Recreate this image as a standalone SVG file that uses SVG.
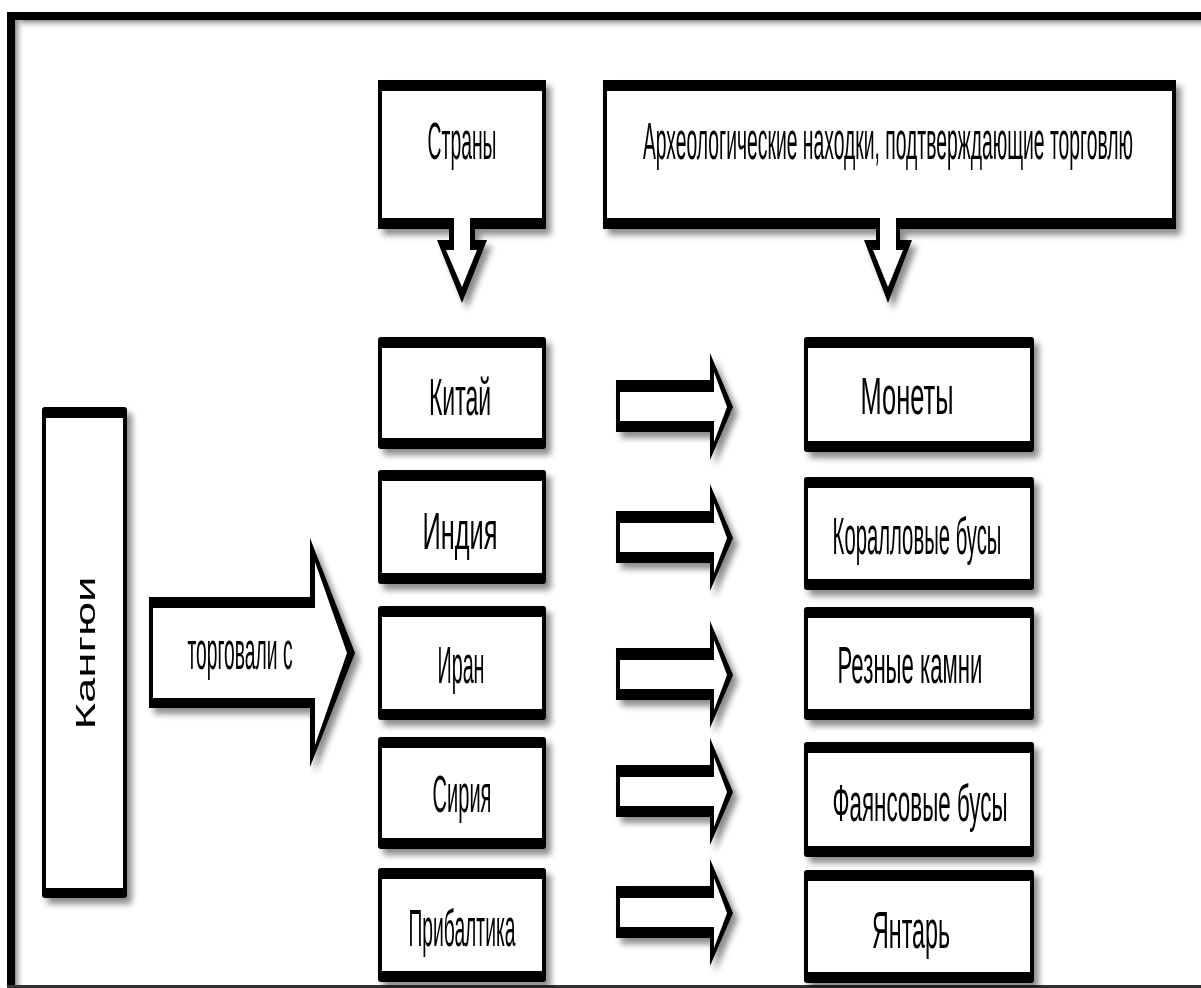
<svg xmlns="http://www.w3.org/2000/svg" width="1201" height="988" viewBox="0 0 1201 988">
<defs>
<filter id="sh" x="-20%" y="-20%" width="150%" height="150%">
<feDropShadow dx="5" dy="6" stdDeviation="3" flood-color="#000" flood-opacity="0.45"/>
</filter>
<linearGradient id="gTop" x1="0" y1="0" x2="0" y2="1"><stop offset="0" stop-color="#8a8a8a"/><stop offset="1" stop-color="#fff" stop-opacity="0"/></linearGradient>
<linearGradient id="gLeft" x1="0" y1="0" x2="1" y2="0"><stop offset="0" stop-color="#8a8a8a"/><stop offset="1" stop-color="#fff" stop-opacity="0"/></linearGradient>
<g id="arrowSmall">
<path class="blk" d="M616,380 H710 V353 L733,407 L710,460 V432 H616 Z"/>
<path class="wht" d="M620,392 H714 V372 L727,407 L714,442 V421 H620 Z"/>
</g>
</defs>
<style>
.blk{fill:#000}
.wht{fill:#fff}
.t{font-family:"Liberation Sans",Arial,sans-serif;font-size:52px;fill:#000;text-anchor:middle}
.kt{font-family:"Liberation Sans",Arial,sans-serif;font-size:27px;fill:#000;text-anchor:middle}
.box{filter:url(#sh)}
</style>
<rect x="0" y="0" width="1201" height="988" fill="#fff"/>
<g id="frame">
<rect x="15" y="20" width="1186" height="10" fill="url(#gTop)"/>
<rect x="15" y="20" width="10" height="966" fill="url(#gLeft)"/>
<rect x="7" y="12" width="1194" height="8" fill="#000"/>
<rect x="7" y="12" width="8" height="976" fill="#000"/>
<rect x="7" y="985" width="1194" height="3" fill="#333"/>
</g>
<g id="strany" class="box">
<path class="blk" d="M378,80 H546 V229 H475 V240 H487 L462,303 L437,240 H449 V229 H378 Z"/>
<path class="wht" d="M382,91 H542 V218 H470 V250 H477 L462,287 L446,250 H454 V218 H382 Z"/>
<text class="t" transform="translate(462,159) scale(0.42,1)" textLength="164" lengthAdjust="spacingAndGlyphs">Страны</text>
</g>
<g id="finds" class="box">
<path class="blk" d="M603,80 H1176 V229 H900 V240 H912 L888,303 L864,240 H876 V229 H603 Z"/>
<path class="wht" d="M607,91 H1172 V218 H896 V250 H903 L888,287 L873,250 H880 V218 H607 Z"/>
<text class="t" transform="translate(888,159) scale(0.42,1)" textLength="1167" lengthAdjust="spacingAndGlyphs">Археологические находки, подтверждающие торговлю</text>
</g>
<g id="kangyui" class="box">
<rect class="blk" x="42" y="407" width="85" height="491" rx="3"/>
<rect class="wht" x="46" y="418" width="77" height="470"/>
<text class="kt" x="0" y="0" textLength="153" lengthAdjust="spacingAndGlyphs" transform="translate(95,653) rotate(-90)">Кангюи</text>
</g>
<g id="traded" class="box">
<path class="blk" d="M149,597 H310 V538 L355,653 L310,767 V708 H149 Z"/>
<path class="wht" d="M153,608 H315 V562 L347,653 L315,745 V698 H153 Z"/>
<text class="t" transform="translate(240,669) scale(0.42,1)" textLength="250" lengthAdjust="spacingAndGlyphs">торговали с</text>
</g>
<g id="china" class="box">
<rect class="blk" x="378" y="337" width="168" height="112" rx="3"/>
<rect class="wht" x="382" y="348" width="160" height="90"/>
<text class="t" transform="translate(460,415) scale(0.42,1)" textLength="148" lengthAdjust="spacingAndGlyphs">Китай</text>
</g>
<g id="india" class="box">
<rect class="blk" x="378" y="470" width="168" height="114" rx="3"/>
<rect class="wht" x="382" y="481" width="160" height="92"/>
<text class="t" transform="translate(460,549) scale(0.42,1)" textLength="179" lengthAdjust="spacingAndGlyphs">Индия</text>
</g>
<g id="iran" class="box">
<rect class="blk" x="378" y="606" width="168" height="114" rx="3"/>
<rect class="wht" x="382" y="617" width="160" height="92"/>
<text class="t" transform="translate(461,683) scale(0.42,1)" textLength="112" lengthAdjust="spacingAndGlyphs">Иран</text>
</g>
<g id="syria" class="box">
<rect class="blk" x="378" y="737" width="168" height="112" rx="3"/>
<rect class="wht" x="382" y="748" width="160" height="90"/>
<text class="t" transform="translate(462,812) scale(0.42,1)" textLength="140" lengthAdjust="spacingAndGlyphs">Сирия</text>
</g>
<g id="baltic" class="box">
<rect class="blk" x="378" y="868" width="168" height="114" rx="3"/>
<rect class="wht" x="382" y="879" width="160" height="92"/>
<text class="t" transform="translate(462,946) scale(0.42,1)" textLength="255" lengthAdjust="spacingAndGlyphs">Прибалтика</text>
</g>
<g id="coins" class="box">
<rect class="blk" x="804" y="337" width="230" height="115" rx="3"/>
<rect class="wht" x="808" y="348" width="222" height="93"/>
<text class="t" transform="translate(907,414) scale(0.42,1)" textLength="221" lengthAdjust="spacingAndGlyphs">Монеты</text>
</g>
<g id="coral" class="box">
<rect class="blk" x="804" y="477" width="230" height="113" rx="3"/>
<rect class="wht" x="808" y="488" width="222" height="91"/>
<text class="t" transform="translate(917,554) scale(0.42,1)" textLength="402" lengthAdjust="spacingAndGlyphs">Коралловые бусы</text>
</g>
<g id="stones" class="box">
<rect class="blk" x="804" y="607" width="230" height="113" rx="3"/>
<rect class="wht" x="808" y="618" width="222" height="91"/>
<text class="t" transform="translate(910,683) scale(0.42,1)" textLength="345" lengthAdjust="spacingAndGlyphs">Резные камни</text>
</g>
<g id="faience" class="box">
<rect class="blk" x="804" y="742" width="230" height="115" rx="3"/>
<rect class="wht" x="808" y="753" width="222" height="93"/>
<text class="t" transform="translate(920,821) scale(0.42,1)" textLength="417" lengthAdjust="spacingAndGlyphs">Фаянсовые бусы</text>
</g>
<g id="amber" class="box">
<rect class="blk" x="804" y="870" width="230" height="113" rx="3"/>
<rect class="wht" x="808" y="881" width="222" height="91"/>
<text class="t" transform="translate(911,948) scale(0.42,1)" textLength="186" lengthAdjust="spacingAndGlyphs">Янтарь</text>
</g>
<g id="connectors" class="box">
<use href="#arrowSmall"/>
<use href="#arrowSmall" transform="translate(0,131)"/>
<use href="#arrowSmall" transform="translate(0,268)"/>
<use href="#arrowSmall" transform="translate(0,385)"/>
<use href="#arrowSmall" transform="translate(0,506)"/>
</g>
</svg>
